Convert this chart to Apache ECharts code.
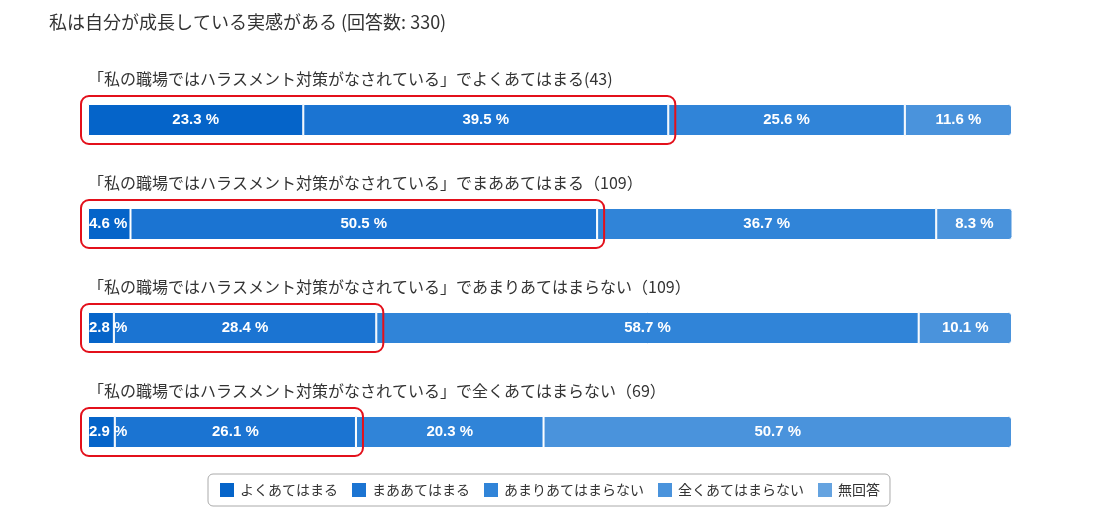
<!DOCTYPE html>
<html>
<head>
<meta charset="utf-8">
<script src="https://cdn.jsdelivr.net/npm/echarts@6/dist/echarts.min.js"></script>
<style>
  html, body { margin: 0; padding: 0; background: #fff; }
  #main { width: 1098px; height: 514px; }
</style>
</head>
<body>
<div id="main"></div>
<script>
var titleText = '私は自分が成長している実感がある (回答数: 330)';
var categories = [
    '「私の職場ではハラスメント対策がなされている」でよくあてはまる(43)',
    '「私の職場ではハラスメント対策がなされている」でまああてはまる（109）',
    '「私の職場ではハラスメント対策がなされている」であまりあてはまらない（109）',
    '「私の職場ではハラスメント対策がなされている」で全くあてはまらない（69）'
];
var seriesNames = ['よくあてはまる', 'まああてはまる', 'あまりあてはまらない', '全くあてはまらない', '無回答'];
var yokuAtehamaru = [23.3, 4.6, 2.8, 2.9];
var maaAtehamaru = [39.5, 50.5, 28.4, 26.1];
var amariAtehamaranai = [25.6, 36.7, 58.7, 20.3];
var mattakuAtehamaranai = [11.6, 8.3, 10.1, 50.7];
var mukaitou = [0, 0, 0, 0];
var colors = ['#0564c9', '#1b74d2', '#3084d8', '#4a93dc', '#65a3e0'];

var chart = echarts.init(document.getElementById('main'));
var allData = [yokuAtehamaru, maaAtehamaru, amariAtehamaranai, mattakuAtehamaranai, mukaitou];
var barH = 32;

var series = allData.map(function (d, i) {
    return {
        name: seriesNames[i],
        type: 'bar',
        stack: 'total',
        barWidth: barH,
        // 細いセグメントはラベルを左寄せ
        data: d.map(function (v) {
            if (v > 0 && v < 5) {
                return { value: v, label: { position: 'insideLeft', distance: 1 } };
            }
            return v;
        }),
        itemStyle: {
            color: colors[i],
            borderColor: '#ffffff',
            borderWidth: 1,
            borderRadius: i === 3 ? [0, 3, 3, 0] : 0
        },
        label: {
            show: true,
            position: 'inside',
            color: '#ffffff',
            fontWeight: 'bold',
            fontSize: 15,
            fontFamily: '"Liberation Sans Narrow", "Arial Narrow", "Liberation Sans", sans-serif',
            formatter: function (p) {
                return p.value ? p.value + ' %' : '';
            }
        }
    };
});

var option = {
    animation: false,
    color: colors,
    title: {
        text: titleText,
        left: 44,
        top: 8,
        textStyle: {
            fontFamily: '"Noto Sans CJK JP", sans-serif',
            fontSize: 18,
            fontWeight: 'normal',
            color: '#333'
        }
    },
    grid: {
        left: 88,
        right: 86,
        top: 68,
        bottom: 30
    },
    legend: {
        bottom: 8,
        left: 'center',
        itemWidth: 16,
        itemHeight: 16,
        itemGap: 12,
        icon: 'rect',
        borderColor: '#aaa',
        borderWidth: 1,
        borderRadius: 5,
        padding: [7, 10],
        textStyle: {
            fontFamily: '"Noto Sans CJK JP", sans-serif',
            fontSize: 14,
            color: '#333'
        },
        data: seriesNames
    },
    xAxis: {
        type: 'value',
        min: 0,
        max: 100,
        show: false
    },
    yAxis: {
        type: 'category',
        inverse: true,
        data: categories,
        axisLine: { show: false },
        axisTick: { show: false },
        axisLabel: {
            inside: true,
            margin: 0,
            align: 'left',
            verticalAlign: 'bottom',
            padding: [0, 0, 33, 0],
            fontFamily: '"Noto Sans CJK JP", sans-serif',
            fontSize: 16,
            color: '#333'
        }
    },
    series: series
};
chart.setOption(option);

// 肯定的な回答（よく＋まあ）を赤枠で囲む
var boxes = categories.map(function (c, i) {
    var right = yokuAtehamaru[i] + maaAtehamaru[i];
    var p0 = chart.convertToPixel({ gridIndex: 0 }, [0, i]);
    var p1 = chart.convertToPixel({ gridIndex: 0 }, [right, i]);
    return {
        type: 'rect',
        z: 100,
        shape: {
            x: p0[0] - 7,
            y: p0[1] - barH / 2 - 8,
            width: p1[0] - p0[0] + 14,
            height: barH + 16,
            r: 8
        },
        style: {
            fill: 'none',
            stroke: '#e3101b',
            lineWidth: 2
        }
    };
});
chart.setOption({ graphic: boxes });
</script>
</body>
</html>
